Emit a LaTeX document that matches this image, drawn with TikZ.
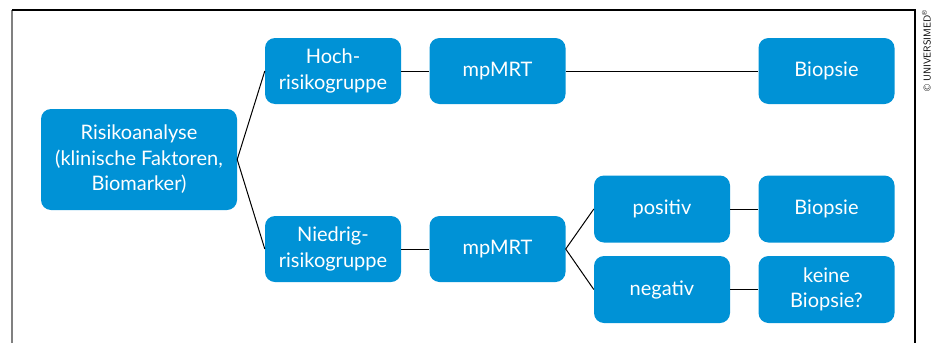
\documentclass[tikz,border=0pt]{standalone}
\usepackage{fontspec}
\setmainfont{Lato}
\usetikzlibrary{positioning}
\definecolor{mblue}{RGB}{0,146,214}
\tikzset{box/.style = {fill=mblue, draw=none, rounded corners=10pt, text=white,
                       align=center, inner sep=2pt, font=\fontsize{20}{25.5}\selectfont,
                       minimum width=136pt, minimum height=66pt}}
\tikzset{link/.style = {line width=1pt, black}}
\begin{document}
\begin{tikzpicture}[x=1pt, y=-1pt]
  \useasboundingbox (0,0) rectangle (933,343);
  % frame
  \draw[line width=1.5pt, gray] (12,343) -- (12,10);
  \draw[line width=1.2pt] (12,10) -- (915,10) -- (915,343);
  \node[rotate=90, anchor=south east, inner sep=0pt, font=\fontsize{10}{11}\selectfont\sffamily] (copy) at (931,10) {\copyright{} UNIVERSIMED\textsuperscript{\textregistered}};
  % boxes
  \node[box, minimum width=196pt, minimum height=101pt] (risk) at (139,159.5) {Risikoanalyse\\(klinische Faktoren,\\Biomarker)};
  \node[box] (high) at (333,71) {Hoch-\\risikogruppe};
  \node[box] (mri1) at (497.5,71) {mpMRT};
  \node[box] (bio1) at (826.5,71) {Biopsie};
  \node[box] (low) at (333,249) {Niedrig-\\risikogruppe};
  \node[box] (mri2) at (497.5,249) {mpMRT};
  \node[box, minimum height=67pt] (pos) at (662,209) {positiv};
  \node[box, minimum height=67pt] (neg) at (662,289.5) {negativ};
  \node[box, minimum height=67pt] (bio2) at (826.5,209) {Biopsie};
  \node[box, minimum height=67pt] (none) at (826.5,289.5) {keine\\Biopsie?};
  % connectors
  \draw[link] (high.west) -- (risk.east) -- (low.west);
  \draw[link] (high) -- (mri1);
  \draw[link] (mri1) -- (bio1);
  \draw[link] (low) -- (mri2);
  \draw[link] (pos.west) -- (mri2.east) -- (neg.west);
  \draw[link] (pos) -- (bio2);
  \draw[link] (neg) -- (none);
\end{tikzpicture}
\end{document}
